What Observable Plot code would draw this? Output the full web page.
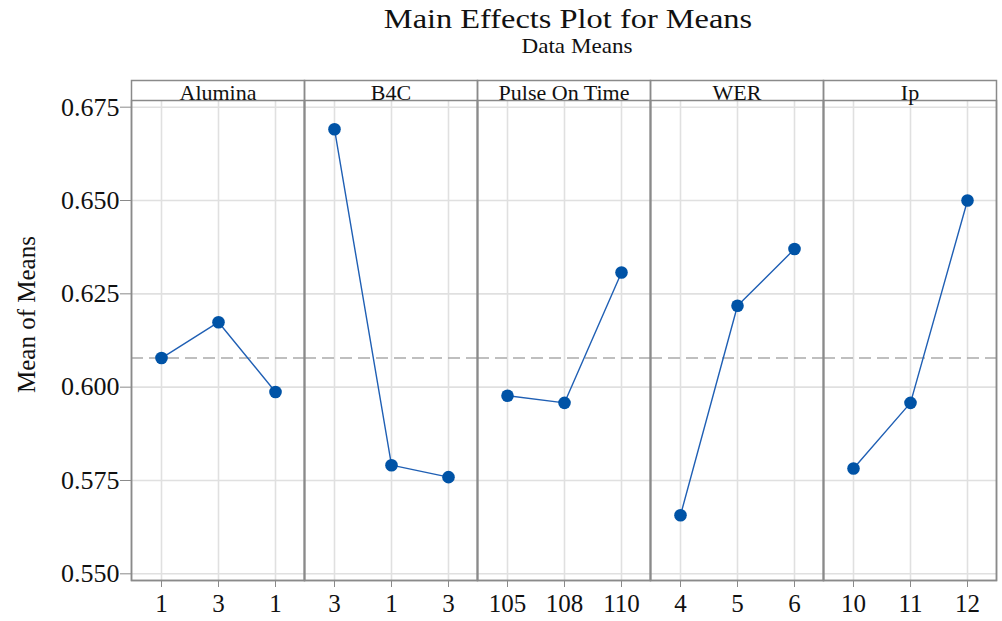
<!DOCTYPE html>
<html>
<head>
<meta charset="utf-8">
<script src="https://cdn.jsdelivr.net/npm/d3@7"></script>
<script src="https://cdn.jsdelivr.net/npm/@observablehq/plot@0.6"></script>
<style>
  html, body { margin: 0; padding: 0; background: #fff; }
  #wrap { width: 1002px; height: 621px; position: relative; overflow: hidden; font-family: "Liberation Serif", "Times New Roman", serif; }
  #head { position: relative; height: 60px; }
  .t { position: absolute; white-space: nowrap; line-height: 1; color: #111; transform-origin: center; }
  #title { left: 568px; top: 6px; font-size: 27px; transform: translateX(-50%) scaleX(1.2); }
  #subtitle { left: 577px; top: 36px; font-size: 21px; transform: translateX(-50%) scaleX(1.1); }
  svg { display: block; }
</style>
</head>
<body>
<div id="wrap">
  <div id="head">
    <div class="t" id="title">Main Effects Plot for Means</div>
    <div class="t" id="subtitle">Data Means</div>
  </div>
  <div id="chart"></div>
</div>
<script>
// Factors (facet panels)
const factors = ["Alumina", "B4C", "Pulse On Time", "WER", "Ip"];
// Level tick labels per factor
const aluminaLevels = ["1", "3", "1"];
const b4cLevels = ["3", "1", "3"];
const pulseLevels = ["105", "108", "110"];
const werLevels = ["4", "5", "6"];
const ipLevels = ["10", "11", "12"];
// Means per factor level
const aluminaMeans = [0.6078, 0.6174, 0.5987];
const b4cMeans = [0.6691, 0.5791, 0.5759];
const pulseMeans = [0.5977, 0.5958, 0.6307];
const werMeans = [0.5657, 0.6218, 0.6370];
const ipMeans = [0.5782, 0.5958, 0.6500];
// Overall mean (reference line)
const overallMean = 0.6078;
// Y axis ticks
const yTicks = [0.550, 0.575, 0.600, 0.625, 0.650, 0.675];
const levelIndex = [0, 1, 2];

const levelSets = [aluminaLevels, b4cLevels, pulseLevels, werLevels, ipLevels];
const meanSets = [aluminaMeans, b4cMeans, pulseMeans, werMeans, ipMeans];
const rows = factors.flatMap((f, i) =>
  meanSets[i].map((m, j) => ({factor: f, level: j, label: levelSets[i][j], mean: m}))
);

const gridColor = "#e0e0e0";
const frameColor = "#8a8a8a";

const chart = Plot.plot({
  width: 1002,
  height: 561,
  marginLeft: 130,
  marginRight: 5,
  marginTop: 40,
  marginBottom: 41,
  style: {fontFamily: "'Liberation Serif', 'Times New Roman', serif", fontSize: "22px", background: "#fff", color: "#111", overflow: "visible"},
  fx: {domain: factors, padding: 0},
  x: {type: "point", domain: levelIndex, padding: 0.5},
  y: {domain: [0.54821, 0.67679]},
  marks: [
    Plot.gridY(yTicks, {stroke: gridColor, strokeOpacity: 1, strokeWidth: 1.6}),
    Plot.gridX(levelIndex, {stroke: gridColor, strokeOpacity: 1, strokeWidth: 1.6}),
    Plot.ruleY([overallMean], {stroke: "#ababab", strokeWidth: 1.6, strokeDasharray: "12,6"}),
    Plot.line(rows, {fx: "factor", x: "level", y: "mean", stroke: "#1f5fb4", strokeWidth: 1.4}),
    Plot.dot(rows, {fx: "factor", x: "level", y: "mean", r: 6.3, fill: "#0053a6", stroke: "none"}),
    Plot.frame({stroke: frameColor, strokeWidth: 1.5}),
    Plot.frame({stroke: frameColor, strokeWidth: 1.5, insetTop: -20}),
    Plot.axisFx({anchor: "top", tickSize: 0, tickPadding: 1, fontSize: 22, label: null}),
    Plot.axisY(yTicks, {anchor: "left", tickFormat: ".3f", tickSize: 11, tickPadding: 1, fontSize: 26, label: null, stroke: frameColor}),
    Plot.axisX(levelIndex, {anchor: "bottom", tickFormat: () => "", tickSize: 7, label: null, stroke: frameColor}),
    Plot.text(rows, {fx: "factor", x: "level", text: "label", frameAnchor: "bottom", lineAnchor: "top", dy: 14, fontSize: 25}),
    Plot.text(["Mean of Means"], {frameAnchor: "left", facetAnchor: "left", rotate: -90, textAnchor: "middle", dx: -105, dy: -26, fontSize: 25})
  ]
});
document.getElementById("chart").appendChild(chart);
</script>
</body>
</html>
